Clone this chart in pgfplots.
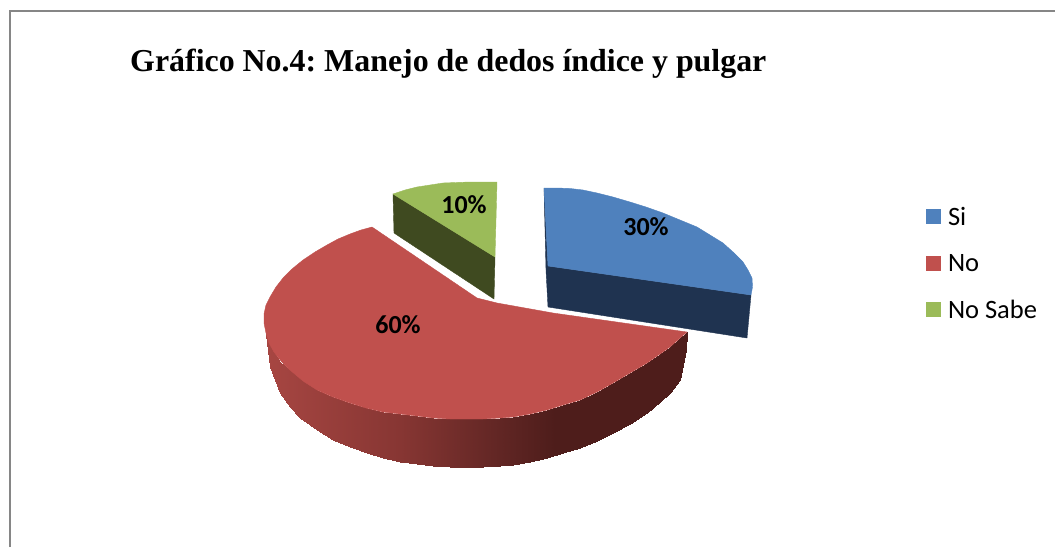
\documentclass[border=0pt]{standalone}
\usepackage{pgfplots}
\pgfplotsset{compat=1.18}
\usepackage{fontspec}
\setmainfont{Liberation Serif}
\newfontfamily\calfont{Carlito}
\definecolor{cblue}{RGB}{79,129,189}
\definecolor{cred}{RGB}{192,80,77}
\definecolor{cgreen}{RGB}{155,187,89}
\definecolor{dblue}{RGB}{31,51,80}
\definecolor{dgreen}{RGB}{63,74,32}
\definecolor{framecol}{RGB}{134,134,134}
\begin{document}
\begin{tikzpicture}
\begin{axis}[
  scale only axis, width=1055pt, height=547pt,
  xmin=0, xmax=1055, ymin=0, ymax=547, y dir=reverse,
  hide axis,
  colormap={side}{rgb255(266pt)=(167,70,66); rgb255(400pt)=(135,54,51); rgb255(500pt)=(97,38,36); rgb255(555pt)=(78,29,27); rgb255(690pt)=(78,29,27)},
  point meta min=266, point meta max=690,
  legend cell align=left,
  legend style={at={(axis cs:926,205)}, anchor=north west, draw=none, fill=none, inner sep=0pt, outer sep=0pt,
    row sep=23.3pt, font=\calfont\fontsize{26.5}{28}\selectfont, /tikz/column 1/.style={column sep=5pt}},
  area legend,
  legend image code/.code={\fill[#1,draw=none] (0pt,-7.5pt) rectangle (15pt,7.5pt);},
]
\path (axis cs:0,0) rectangle (axis cs:1055,547);
% legend
\addlegendimage{fill=cblue}\addlegendentry{Si}
\addlegendimage{fill=cred}\addlegendentry{No}
\addlegendimage{fill=cgreen}\addlegendentry{No Sabe}
% frame
\addplot[framecol, line width=2pt, forget plot] coordinates {(10,547)(10,11)(1055,11)};
% No Sabe (10%)
\addplot[dgreen, fill=dgreen, forget plot] coordinates {(393,194)(495,257)(494,299)(394,233)} -- cycle;
\addplot[cgreen, fill=cgreen, forget plot] coordinates {(393,194)(405,190)(417,187)(430,185)(443,183)(456,182.5)(470,182)(497,182)(495,257)} -- cycle;
% Si (30%)
\addplot[dblue, fill=dblue, forget plot] coordinates {(544,188)(548,266)(751,295)(747,338)(548,307)(546,270)} -- cycle;
\addplot[cblue, fill=cblue, forget plot] coordinates {(544,188)(557,188)(570,188.5)(583,190)(597,193)(613,197)(630,202)(646,207)(663,213)(680,220)(697,227)(710,235)(723,243)(733,252)(743,262)(748,270)(752,278)(752.5,287)(751,295)(548,266)} -- cycle;
% No (60%): side wall
\addplot[patch, patch type=rectangle, shader=interp, point meta=explicit, forget plot] coordinates {
(266,333)[266](270,345)[270](270,367)[270](266,335)[266]
(270,345)[270](280,362)[280](280,393)[280](270,367)[270]
(280,362)[280](290,370)[290](290,407)[290](280,393)[280]
(290,370)[290](300,378)[300](300,418)[300](290,407)[290]
(300,378)[300](317,390)[317](317,430)[317](300,418)[300]
(317,390)[317](333,397)[333](333,440)[333](317,430)[317]
(333,397)[333](350,403)[350](350,447)[350](333,440)[333]
(350,403)[350](367,408)[367](367,453)[367](350,447)[350]
(367,408)[367](383,412)[383](383,458)[383](367,453)[367]
(383,412)[383](400,414)[400](400,462)[400](383,458)[383]
(400,414)[400](417,416)[417](417,464)[417](400,462)[400]
(417,416)[417](433,418)[433](433,466)[433](417,464)[417]
(433,418)[433](450,419)[450](450,467)[450](433,466)[433]
(450,419)[450](467,419)[467](467,467)[467](450,467)[450]
(467,419)[467](483,419)[483](483,467)[483](467,467)[467]
(483,419)[483](500,418)[500](500,466)[500](483,467)[483]
(500,418)[500](513,417)[513](513,465)[513](500,466)[500]
(513,417)[513](530,414)[530](530,462)[530](513,465)[513]
(530,414)[530](547,410)[547](547,458)[547](530,462)[530]
(547,410)[547](563,405)[563](563,453)[563](547,458)[547]
(563,405)[563](580,400)[580](580,448)[580](563,453)[563]
(580,400)[580](597,392)[597](597,441)[597](580,448)[580]
(597,392)[597](613,383)[613](613,433)[613](597,441)[597]
(613,383)[613](630,373)[630](630,424)[630](613,433)[613]
(630,373)[630](647,363)[647](647,413)[647](630,424)[630]
(647,363)[647](660,354)[660](660,402)[660](647,413)[647]
(660,354)[660](670,347)[670](670,393)[670](660,402)[660]
(670,347)[670](680,338)[680](680,380)[680](670,393)[670]
(680,338)[680](687,332)[687](686,350)[686](680,380)[680]
};
% No (60%): top
\addplot[cred, fill=cred, forget plot] coordinates {(372,227)(361,230)(350,234)(338,239)(327,245)(315,252)(303,260)(292,269)(283,278)(276,287)(270,297)(266,305)(264,314)(264,323)(266,333)(269,343)(274,352)(281,361)(290,370)(303,381)(317,390)(333,397)(350,403)(366,408)(383,412)(400,414)(417,416)(433,418)(450,419)(467,419)(483,419)(500,418)(513,417)(530,414)(547,410)(563,405)(580,400)(597,392)(613,383)(630,373)(647,363)(660,354)(670,347)(680,338)(687,332)(553,313)(497,303)(477,298)} -- cycle;
% texts
\node[anchor=west, font=\bfseries\fontsize{31.9}{34}\selectfont, inner sep=0pt] at (axis cs:130,64) {\frenchspacing Gráfico No.4: Manejo de dedos índice y pulgar};
\node[font=\calfont\bfseries\fontsize{26}{28}\selectfont] at (axis cs:398,325) {60\%};
\node[font=\calfont\bfseries\fontsize{26}{28}\selectfont] at (axis cs:646,227) {30\%};
\node[font=\calfont\bfseries\fontsize{26}{28}\selectfont] at (axis cs:464,205) {10\%};
\end{axis}
\end{tikzpicture}
\end{document}
